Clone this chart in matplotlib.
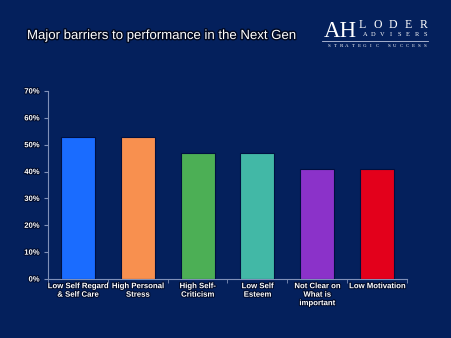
import matplotlib
matplotlib.use("Agg")
import matplotlib.pyplot as plt
import matplotlib.patheffects as pe
import numpy as np

categories = ["Low Self Regard\n& Self Care", "High Personal\nStress", "High Self-\nCriticism",
              "Low Self\nEsteem", "Not Clear on\nWhat is\nimportant", "Low Motivation"]
values = [53, 53, 47, 47, 41, 41]
colors = ["#1a6cff", "#f8904f", "#4caf55", "#42b8a6", "#8b32c9", "#e3001b"]
yticks = [0, 10, 20, 30, 40, 50, 60, 70]

plt.rcParams["font.family"] = ["Liberation Sans", "DejaVu Sans"]
bg = "#04205c"
W, H = 451, 338
fig = plt.figure(figsize=(W/100, H/100), dpi=100, facecolor=bg)
ax = fig.add_axes([48/W, 1-279/H, (407-48)/W, (279-91)/H])
ax.set_facecolor(bg)

shadow = [pe.withStroke(linewidth=1.5, foreground="#000a2a")]
x = np.arange(len(categories))
ax.bar(x, values, width=0.57, color=colors, edgecolor="#001040", linewidth=0.8, zorder=3)
ax.set_xlim(-0.5, len(categories)-0.5)
ax.set_ylim(0, 70)
ax.set_yticks(yticks)
ax.set_yticklabels([f"{v}%" for v in yticks], fontsize=5.5, fontweight="bold", color="white",
                   path_effects=shadow)
ax.set_xticks(x)
ax.set_xticklabels(categories, fontsize=5.6, fontweight="bold", color="white",
                   path_effects=shadow, linespacing=1.3)
ax.set_xticks(np.arange(-0.5, len(categories)), minor=True)
ax.tick_params(axis="x", which="major", length=0, pad=3)
ax.tick_params(axis="x", which="minor", length=3, color="#8090b8", direction="out")
ax.tick_params(axis="y", length=3, color="#8090b8", direction="out", pad=3)
for s in ["top", "right"]:
    ax.spines[s].set_visible(False)
for s in ["left", "bottom"]:
    ax.spines[s].set_color("#8090b8")
    ax.spines[s].set_linewidth(0.8)

fig.text(27/W, 1-36/H, "Major barriers to performance in the Next Gen", fontsize=9.5,
         color="white", va="center", ha="left", path_effects=[pe.withStroke(linewidth=2, foreground="#000820")])

# logo
serif = ["Liberation Serif", "DejaVu Serif"]
fig.text(324/W, 1-37/H, "AH", fontsize=16.5, family=serif, color="white", va="baseline", ha="left")

def spaced(word, x0, x1, ybase, size):
    n = len(word)
    step = (x1 - x0) / (n - 1) if n > 1 else 0
    for i, ch in enumerate(word):
        if ch != " ":
            fig.text((x0 + i*step)/W, 1-ybase/H, ch, fontsize=size, family=serif,
                     color="white", va="baseline", ha="center")

spaced("LODER", 362, 424, 28.5, 8.5)
spaced("ADVISERS", 365, 425, 36, 4.6)
fig.add_artist(plt.Line2D([322/W, 428/W], [1-41/H, 1-41/H], color="#c0c8e0", linewidth=0.6))
spaced("STRATEGIC SUCCESS", 329, 425, 47, 3.6)

fig.savefig("out.png", dpi=100, facecolor=bg)
